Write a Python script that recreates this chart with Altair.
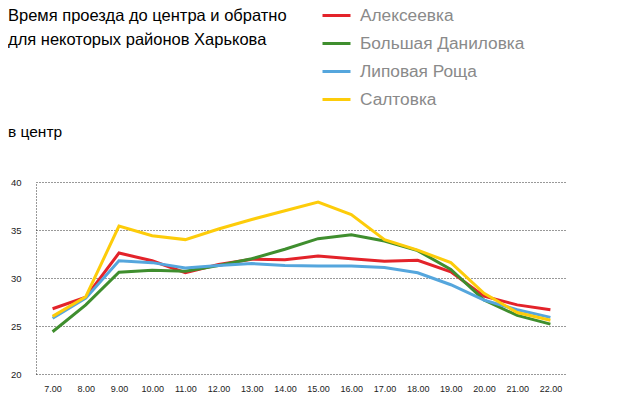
import altair as alt
import pandas as pd

hours = ["7.00", "8.00", "9.00", "10.00", "11.00", "12.00", "13.00", "14.00",
         "15.00", "16.00", "17.00", "18.00", "19.00", "20.00", "21.00", "22.00"]

alekseevka = [26.8, 28.0, 32.6, 31.8, 30.55, 31.4, 31.95, 31.9, 32.3, 32.0, 31.75, 31.85, 30.65, 28.1, 27.2, 26.7]
bolshaya_danilovka = [24.4, 27.2, 30.6, 30.8, 30.7, 31.3, 32.0, 33.0, 34.1, 34.5, 33.85, 32.85, 30.9, 27.7, 26.1, 25.2]
lipovaya_roshcha = [25.8, 27.9, 31.8, 31.6, 31.05, 31.3, 31.5, 31.3, 31.25, 31.25, 31.1, 30.55, 29.3, 27.7, 26.7, 25.9]
saltovka = [26.0, 28.05, 35.4, 34.4, 34.0, 35.1, 36.1, 37.0, 37.9, 36.6, 34.0, 32.9, 31.6, 28.4, 26.4, 25.6]

series_names = ["Алексеевка", "Большая Даниловка", "Липовая Роща", "Салтовка"]
series_values = [alekseevka, bolshaya_danilovka, lipovaya_roshcha, saltovka]
series_colors = ["#e3232a", "#3f8e2e", "#55a6dd", "#fdcc0a"]
draw_rank = [4, 1, 2, 0]

y_ticks = [20, 25, 30, 35, 40]

title_line1 = "Время проезда до центра и обратно"
title_line2 = "для некоторых районов Харькова"
subtitle = "в центр"

rows = []
for name, vals, rank in zip(series_names, series_values, draw_rank):
    for h, v in zip(hours, vals):
        rows.append({"hour": h, "value": v, "district": name, "rank": rank})
df = pd.DataFrame(rows)

FONT = "Liberation Sans"

lines = alt.Chart(df).mark_line(strokeWidth=3, strokeJoin="miter").encode(
    x=alt.X("hour:N", sort=hours,
            scale=alt.Scale(type="point", padding=0.5),
            axis=alt.Axis(title=None, labelAngle=0, ticks=False, domain=False,
                          grid=False, labelPadding=10, labelFontSize=9,
                          labelFont=FONT, labelColor="#222222")),
    y=alt.Y("value:Q", scale=alt.Scale(domain=[20, 40], nice=False, zero=False),
            axis=alt.Axis(title=None, values=y_ticks, ticks=False,
                          domain=True, domainColor="#333333", domainDash=[1, 2],
                          domainWidth=1,
                          grid=True, gridColor="#333333", gridDash=[1, 2],
                          gridWidth=1, gridOpacity=1,
                          labelPadding=15, labelFontSize=9.5, labelFont=FONT,
                          labelColor="#222222")),
    color=alt.Color("district:N",
                    scale=alt.Scale(domain=series_names, range=series_colors),
                    legend=alt.Legend(title=None, orient="none",
                                      legendX=285, legendY=-182,
                                      symbolType="stroke", symbolSize=784,
                                      symbolStrokeWidth=3, rowPadding=4,
                                      labelFontSize=17.3, labelFont=FONT,
                                      labelLimit=400,
                                      labelColor="#8a8a8a", labelOffset=8)),
    order=alt.Order("rank:Q"),
)


def text_layer(txt, size, x, y):
    return alt.Chart(pd.DataFrame({"t": [txt]})).mark_text(
        align="left", baseline="alphabetic", fontSize=size, font=FONT,
        color="#000000"
    ).encode(text="t:N", x=alt.value(x), y=alt.value(y))


t1 = text_layer(title_line1, 16.5, -28, -161)
t2 = text_layer(title_line2, 16.5, -28, -137.5)
sub = text_layer(subtitle, 15.5, -28, -45)

chart = alt.layer(lines, t1, t2, sub).properties(
    width=531, height=192,
    autosize=alt.AutoSizeParams(type="none"),
    padding={"left": 28, "top": 174, "right": 45, "bottom": 30},
).configure_view(stroke=None)

chart.save("out.html", embed_options={"renderer": "svg", "actions": False})
